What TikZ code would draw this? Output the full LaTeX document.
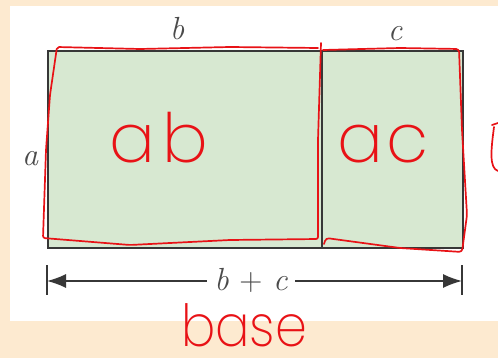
\documentclass[tikz,border=0pt]{standalone}
\usepackage{fontspec}
\usepackage{xcolor}
\usepackage{tikz}
\usetikzlibrary{arrows.meta,positioning,calc}
\newfontfamily\inkfont{Poppins}[UprightFont={* ExtraLight}]
\definecolor{peach}{RGB}{253,234,208}
\definecolor{boxgreen}{RGB}{215,232,209}
\definecolor{boxgray}{RGB}{55,55,55}
\definecolor{inkred}{RGB}{232,18,22}

\begin{document}
\begin{tikzpicture}[
    x=1pt, y=-1pt,
    >=Latex,
    box/.style={draw=boxgray, line width=2pt, fill=boxgreen, inner sep=0pt, anchor=north west, minimum height=197pt},
    lbl/.style={font=\fontsize{32}{38}\selectfont\itshape, text=boxgray!90},
    dim/.style={draw=boxgray, line width=1.4pt},
    ink/.style={draw=inkred, line width=1.7pt, line cap=round, line join=round},
    inktext/.style={text=inkred, font=\inkfont\fontsize{68}{80}\selectfont, inner sep=0pt, anchor=base}
]

\useasboundingbox (0,0) rectangle (498,358);
\fill[peach] (0,0) rectangle (498,358);
\fill[white] (10,6) rectangle (498,321);

\node[box, minimum width=274pt] (ab) at (47,50) {};
\node[box, minimum width=141pt] (ac) at (321,50) {};

\node[lbl, anchor=base] (lb) at (177,40) {b};
\node[lbl, anchor=base] (lc) at (395,41) {c};
\node[lbl, anchor=base] (la) at (30,166) {a};

% dimension line under the boxes
\coordinate (dl) at (47,281);
\coordinate (dr) at (462,281);
\draw[dim, line width=2pt] ($(dl)+(0,-16)$) -- ($(dl)+(0,14)$);
\draw[dim, line width=2pt] ($(dr)+(0,-16)$) -- ($(dr)+(0,14)$);
\draw[dim, {Latex[length=19pt,width=14pt]}-{Latex[length=19pt,width=14pt]}] (dl) -- (dr);
\node[lbl, fill=white, inner xsep=7pt, inner ysep=2pt, anchor=base] (sum) at (251,290) {b\,\,\upshape+\,\,\itshape c};

% handwritten notes
\node[inktext] (nab) at (159,163) {a\hspace{7pt}b};
\node[inktext] (nac) at (383,163) {a\hspace{4pt}c};
\node[inktext, font=\inkfont\fontsize{58}{70}\selectfont, xscale=0.88] (nbase) at (244,346) {base};

\draw[ink, rounded corners=2pt] (321,43) -- (318,140) -- (318,239) -- (230,240) -- (130,245) -- (43,238) -- (46,150) -- (50,95) -- (57,47) -- (140,49) -- (230,47) -- (318,48);
\draw[ink, rounded corners=3pt] (323,50) -- (400,48) -- (459,49) -- (462,130) -- (467,215) -- (462,252) -- (400,248) -- (326,238) -- (324,244);
\draw[ink] (492,125) -- (498,123);
\draw[ink] (494,127) .. controls (491,150) and (489,168) .. (498,171);

\end{tikzpicture}
\end{document}
